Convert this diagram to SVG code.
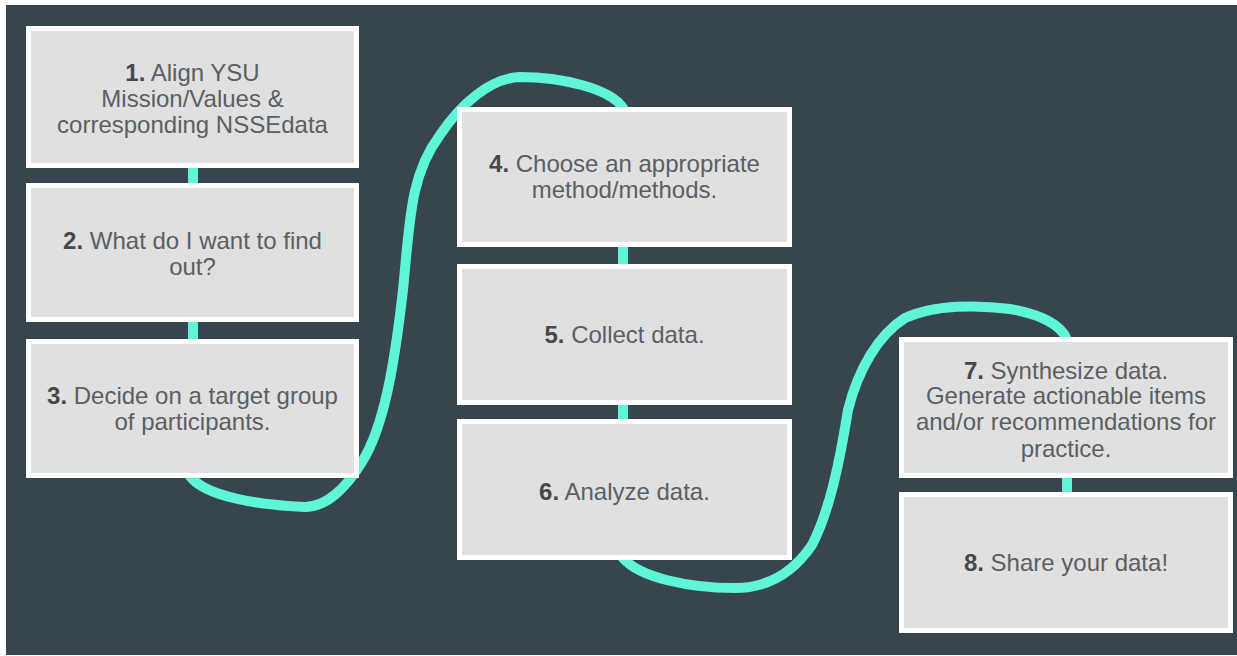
<svg xmlns="http://www.w3.org/2000/svg" width="1237" height="656" viewBox="0 0 1237 656">
<style>
.box{fill:#e0e0e0;stroke:#ffffff;stroke-width:5}
.lbl{font-family:"Liberation Sans",Arial,sans-serif;font-size:24px;fill:#5a5f63;text-anchor:middle}
.num{font-weight:bold;fill:#45494d}
.wire{fill:none;stroke:#5ff5d7;stroke-width:10;stroke-linecap:round}
.stub{fill:#5ff5d7}
</style>
<rect x="0" y="0" width="1237" height="656" fill="#ffffff"/>
<rect x="6" y="5" width="1231" height="650" fill="#37464e"/>
<g id="connectors">
<path class="wire" d="M190,476 C205,497 260,505 305,507 C325,507 345,490 362,462 C385,425 395,360 403,290 C410,220 410,175 440,135 C460,105 490,78 520,77 C560,77 610,88 623,108"/>
<path class="wire" d="M623,558 C640,578 690,588 735,588 C770,588 795,570 812,545 C830,510 840,460 848,410 C858,370 878,335 905,318 C935,304 980,305 1010,309 C1040,314 1062,325 1067,340"/>
<rect class="stub" x="188" y="164" width="10" height="22"/>
<rect class="stub" x="188" y="318" width="10" height="24"/>
<rect class="stub" x="618" y="243" width="10" height="24"/>
<rect class="stub" x="618" y="401" width="10" height="22"/>
<rect class="stub" x="1062" y="474" width="10" height="22"/>
</g>
<g id="node1">
<rect class="box" x="28.5" y="28.5" width="328" height="137"/>
<text class="lbl" x="192.5" y="81"><tspan class="num">1.</tspan> Align YSU</text>
<text class="lbl" x="192.5" y="107">Mission/Values &amp;</text>
<text class="lbl" x="192.5" y="133">corresponding NSSEdata</text>
</g>
<g id="node2">
<rect class="box" x="28.5" y="185.5" width="328" height="134"/>
<text class="lbl" x="192.5" y="249"><tspan class="num">2.</tspan> What do I want to find</text>
<text class="lbl" x="192.5" y="275">out?</text>
</g>
<g id="node3">
<rect class="box" x="28.5" y="341.5" width="328" height="134"/>
<text class="lbl" x="192.5" y="404"><tspan class="num">3.</tspan> Decide on a target group</text>
<text class="lbl" x="192.5" y="430">of participants.</text>
</g>
<g id="node4">
<rect class="box" x="459.5" y="109.5" width="330" height="135"/>
<text class="lbl" x="624.5" y="172"><tspan class="num">4.</tspan> Choose an appropriate</text>
<text class="lbl" x="624.5" y="198">method/methods.</text>
</g>
<g id="node5">
<rect class="box" x="459.5" y="266.5" width="330" height="136"/>
<text class="lbl" x="624.5" y="343"><tspan class="num">5.</tspan> Collect data.</text>
</g>
<g id="node6">
<rect class="box" x="459.5" y="421.5" width="330" height="136"/>
<text class="lbl" x="624.5" y="500"><tspan class="num">6.</tspan> Analyze data.</text>
</g>
<g id="node7">
<rect class="box" x="901.5" y="339.5" width="329" height="136"/>
<text class="lbl" x="1066" y="379"><tspan class="num">7.</tspan> Synthesize data.</text>
<text class="lbl" x="1066" y="404">Generate actionable items</text>
<text class="lbl" x="1066" y="430">and/or recommendations for</text>
<text class="lbl" x="1066" y="457">practice.</text>
</g>
<g id="node8">
<rect class="box" x="901.5" y="494.5" width="329" height="136"/>
<text class="lbl" x="1066" y="571"><tspan class="num">8.</tspan> Share your data!</text>
</g>
</svg>
